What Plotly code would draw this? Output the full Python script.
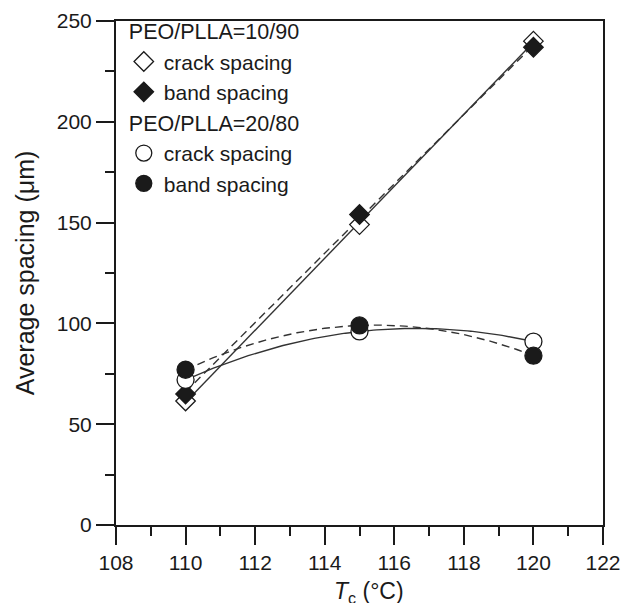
import numpy as np
import plotly.graph_objects as go

# Data
tc = [110, 115, 120]
crack_10_90 = [61.5, 149, 240]
band_10_90 = [65, 154, 237]
crack_20_80 = [72, 96, 91]
band_20_80 = [77, 99, 84]

x_ticks = [108, 110, 112, 114, 116, 118, 120, 122]
y_ticks = [0, 50, 100, 150, 200, 250]

INK = "#1a1a1a"
FONT = "Arial, Liberation Sans, sans-serif"

fig = go.Figure()

# Fit lines: linear for 10/90, quadratic for 20/80
xf = np.linspace(110, 120, 101)
fits = [
    (crack_10_90, 1, "solid"),
    (band_10_90, 1, "8px,5px"),
    (crack_20_80, 2, "solid"),
    (band_20_80, 2, "8px,5px"),
]
for ys, deg, dash in fits:
    p = np.polyfit(tc, ys, deg)
    fig.add_trace(go.Scatter(x=xf, y=np.polyval(p, xf), mode="lines",
                             line=dict(color="#333333", width=1.4, dash=dash),
                             showlegend=False, hoverinfo="skip"))

series = [
    ("crack spacing", crack_10_90, "diamond", "white", "g1", "PEO/PLLA=10/90", 15),
    ("band spacing", band_10_90, "diamond", INK, "g1", "PEO/PLLA=10/90", 15),
    ("crack spacing", crack_20_80, "circle", "white", "g2", "PEO/PLLA=20/80", 17),
    ("band spacing", band_20_80, "circle", INK, "g2", "PEO/PLLA=20/80", 17),
]
for name, ys, sym, fill, grp, gtitle, size in series:
    fig.add_trace(go.Scatter(
        x=tc, y=ys, mode="markers", name=name,
        marker=dict(symbol=sym, size=size, color=fill,
                    line=dict(color=INK, width=1.3)),
        legendgroup=grp,
        legendgrouptitle=dict(text=gtitle, font=dict(size=21.5, color=INK, family=FONT)),
    ))

fig.update_layout(
    template="none",
    width=640, height=603,
    margin=dict(l=108, r=45, t=13, b=86, autoexpand=False),
    paper_bgcolor="white", plot_bgcolor="white",
    font=dict(family=FONT, size=21, color=INK),
    showlegend=True,
    legend=dict(x=0.016, y=0.996, xanchor="left", yanchor="top", yref="container",
                bgcolor="rgba(0,0,0,0)", tracegroupgap=0, borderwidth=0,
                font=dict(size=21, color=INK, family=FONT),
                itemsizing="trace"),
    xaxis=dict(range=[108, 122], tickvals=x_ticks, ticktext=[str(v) for v in x_ticks],
               showgrid=False, zeroline=False, automargin=False,
               showline=True, linecolor=INK, linewidth=2, mirror=True,
               ticks="outside", ticklen=18, tickwidth=2, tickcolor=INK,
               minor=dict(dtick=1, ticks="outside", ticklen=9, tickwidth=2, tickcolor=INK),
               tickfont=dict(size=21)),
    yaxis=dict(range=[0, 250], tickvals=y_ticks, ticktext=[str(v) for v in y_ticks],
               showgrid=False, zeroline=False, automargin=False,
               showline=True, linecolor=INK, linewidth=2, mirror=True,
               ticks="outside", ticklen=18, tickwidth=2, tickcolor=INK,
               minor=dict(dtick=25, ticks="outside", ticklen=9, tickwidth=2, tickcolor=INK),
               tickfont=dict(size=21),
               title=dict(text="Average spacing (μm)", font=dict(size=25), standoff=15)),
    annotations=[dict(text="<i>T</i><sub>c</sub> (°C)", xref="paper", yref="paper",
                      x=0.5195, y=-0.133, xanchor="center", yanchor="middle",
                      showarrow=False, font=dict(size=23, color=INK, family=FONT))],
)

fig.write_html("out.html")
